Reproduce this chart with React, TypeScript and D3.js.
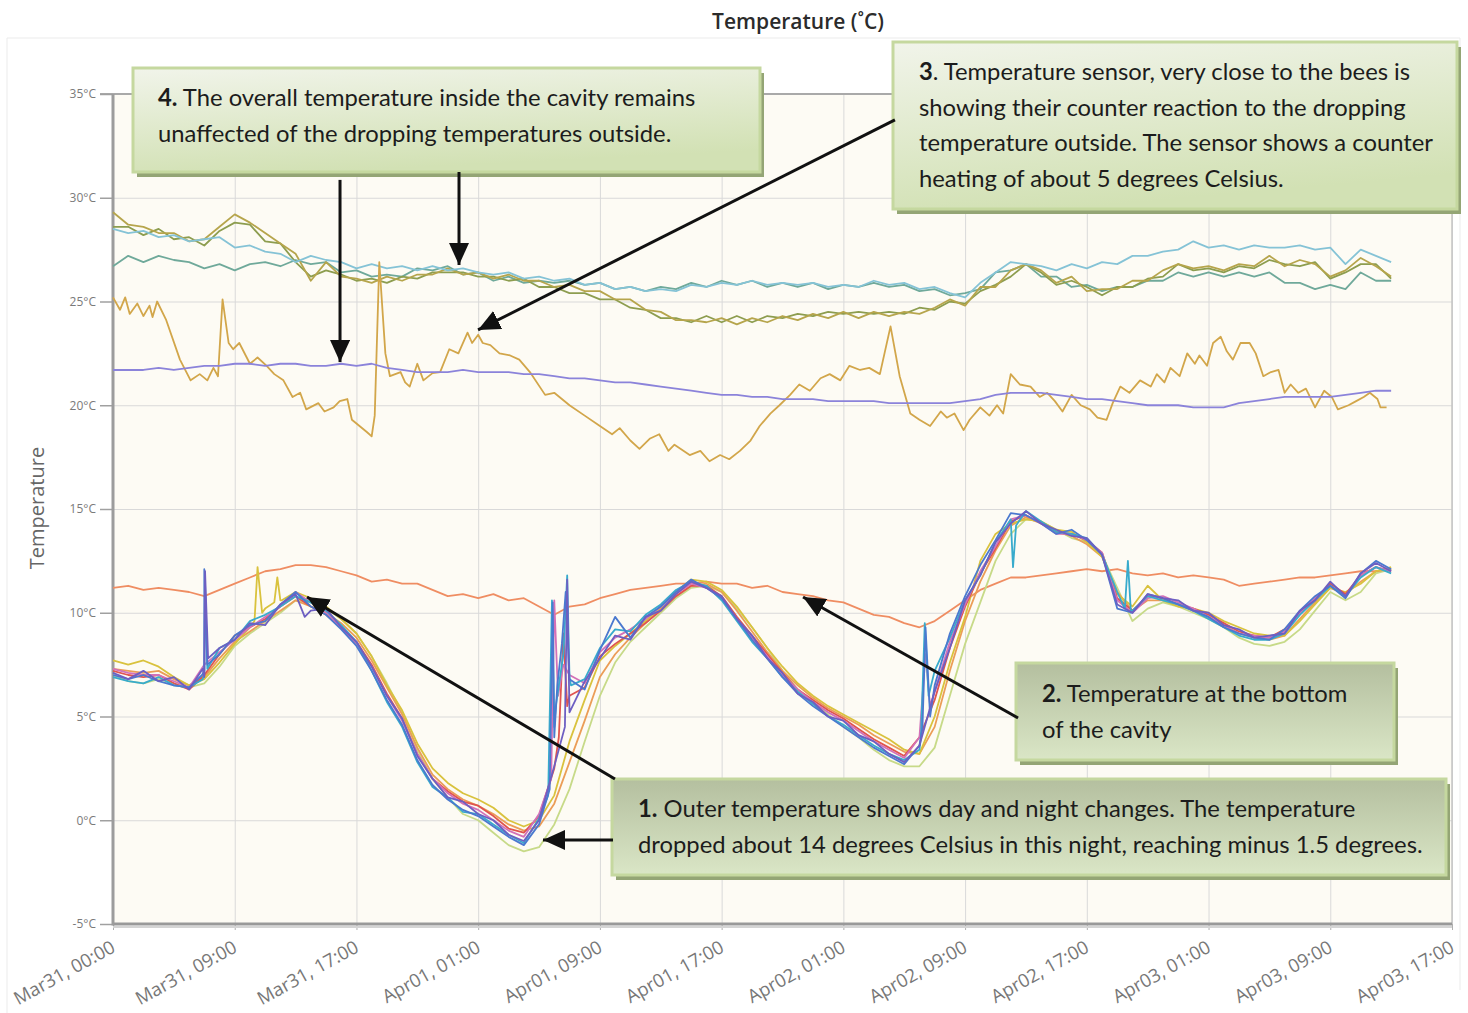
import React, { useEffect, useRef } from "react";
import * as d3 from "d3";

const WIDTH = 1468;
const HEIGHT = 1013;
const PLOT = { LEFT: 113, RIGHT: 1452, TOP: 94, BOTTOM: 924 };

const TITLE = "Temperature (˚C)";
const Y_TITLE = "Temperature";
const X_TICK_LABELS = [
  "Mar31, 00:00", "Mar31, 09:00", "Mar31, 17:00", "Apr01, 01:00",
  "Apr01, 09:00", "Apr01, 17:00", "Apr02, 01:00", "Apr02, 09:00",
  "Apr02, 17:00", "Apr03, 01:00", "Apr03, 09:00", "Apr03, 17:00",
];
const HOURS_PER_TICK = 8;
const Y_TICKS = [-5, 0, 5, 10, 15, 20, 25, 30, 35];

// hourly readings, index = hours since first sample
const UPPER_BLUE = [28.5,28.3,28.4,28.1,28.2,27.9,28.0,28.1,27.6,27.7,27.4,27.3,26.9,27.2,27.0,26.9,26.6,26.8,26.6,26.7,26.5,26.7,26.5,26.6,26.4,26.3,26.4,26.1,26.2,26.0,26.1,25.8,25.9,25.6,25.7,25.5,25.6,25.5,25.8,25.7,25.9,25.8,26.0,25.8,25.9,25.8,25.9,25.7,25.8,25.7,26.0,25.8,25.9,25.6,25.7,25.4,25.2,25.9,26.4,26.9,26.8,26.7,26.5,26.8,26.6,26.9,26.8,27.2,27.2,27.4,27.5,27.9,27.6,27.7,27.5,27.7,27.6,27.6,27.7,27.5,27.6,26.8,27.5,27.2,26.9];
const UPPER_OLIVE = [29.3,28.7,28.6,28.3,28.3,27.9,28.0,28.6,29.2,28.8,28.3,27.8,27.3,26.0,26.9,26.2,26.1,25.9,26.2,26.0,26.3,26.3,26.6,26.3,26.4,26.1,26.3,26.0,26.0,25.7,25.8,25.5,25.5,25.1,25.1,24.6,24.5,24.1,24.1,24.0,24.2,23.9,24.2,24.0,24.3,24.1,24.4,24.2,24.5,24.2,24.5,24.3,24.5,24.4,24.7,25.1,24.8,25.7,25.7,26.5,26.8,26.5,25.9,26.2,25.5,25.6,25.6,26.0,26.0,26.5,26.8,26.6,26.7,26.5,26.8,26.7,27.2,26.7,27.0,26.8,26.2,26.5,27.1,26.7,26.2];
const UPPER_GREEN = [28.6,28.6,28.2,28.5,28.0,28.1,27.7,28.4,28.8,28.7,27.9,27.8,26.9,26.2,26.5,26.3,26.0,26.1,25.9,26.2,26.1,26.4,26.4,26.4,26.2,26.2,26.0,26.1,25.7,25.7,25.4,25.4,25.1,25.1,24.7,24.6,24.2,24.2,24.0,24.3,24.0,24.3,24.0,24.3,24.2,24.4,24.3,24.5,24.4,24.5,24.4,24.5,24.4,24.7,24.6,25.0,24.9,25.5,25.8,26.2,26.8,26.4,25.8,26.0,25.7,25.3,25.7,25.7,26.1,26.2,26.8,26.5,26.6,26.4,26.7,26.6,27.0,26.8,26.7,26.9,26.1,26.4,26.8,26.8,26.1];
const UPPER_TEAL = [26.7,27.2,26.9,27.2,27.0,26.9,26.6,26.8,26.5,26.8,26.9,26.7,27.0,26.8,26.9,26.4,26.5,26.2,26.3,26.2,26.6,26.5,26.7,26.3,26.4,26.0,26.2,25.9,26.0,25.9,26.0,25.8,25.9,25.6,25.7,25.5,25.7,25.6,25.9,25.7,26.0,25.8,26.0,25.7,25.9,25.7,25.9,25.6,25.8,25.7,25.9,25.7,25.8,25.5,25.6,25.3,25.4,25.6,26.4,26.5,26.8,26.2,26.2,25.7,25.8,25.5,25.7,25.7,26.0,26.0,26.4,26.2,26.4,26.2,26.4,26.2,26.4,25.9,25.9,25.6,25.8,25.6,26.4,26.0,26.0];
const CAVITY_MID = [21.7,21.7,21.7,21.8,21.7,21.8,21.9,21.9,22.0,22.0,21.9,22.0,22.0,21.9,21.9,22.0,21.9,22.0,21.8,21.7,21.6,21.6,21.6,21.7,21.6,21.6,21.6,21.5,21.5,21.4,21.3,21.3,21.2,21.1,21.1,21.0,20.9,20.8,20.7,20.6,20.5,20.5,20.4,20.4,20.3,20.3,20.3,20.2,20.2,20.2,20.2,20.1,20.1,20.1,20.1,20.1,20.2,20.3,20.5,20.6,20.6,20.6,20.5,20.4,20.3,20.3,20.2,20.1,20.0,20.0,20.0,19.9,19.9,19.9,20.1,20.2,20.3,20.4,20.4,20.4,20.4,20.5,20.6,20.7,20.7];
const CAVITY_BOTTOM = [11.2,11.3,11.1,11.2,11.1,11.0,10.8,11.1,11.4,11.7,12.0,12.1,12.3,12.3,12.2,12.0,11.8,11.5,11.6,11.4,11.4,11.1,10.8,10.9,10.7,10.9,10.6,10.7,10.3,9.9,10.3,10.4,10.7,10.9,11.1,11.2,11.3,11.4,11.4,11.5,11.4,11.4,11.2,11.3,11.0,10.9,10.8,10.6,10.5,10.2,9.9,9.8,9.5,9.3,9.6,10.1,10.6,11.1,11.4,11.7,11.7,11.8,11.9,12.0,12.1,12.0,12.1,11.9,11.8,11.9,11.7,11.8,11.7,11.6,11.3,11.4,11.5,11.6,11.7,11.7,11.8,11.9,12.0,12.0,12.1];

// sensor next to the bees, [hour, °C]
const BEE_SENSOR: [number, number][] = [
  [0,25.2],[0.46,24.6],[0.8,25.2],[1.1,24.4],[1.6,24.9],[2.0,24.3],[2.4,24.8],[2.6,24.25],[2.9,25.0],[3.5,24.1],
  [4.4,22.2],[5.1,21.2],[5.7,21.5],[6.2,21.2],[6.6,21.8],[6.9,21.4],[7.2,25.1],[7.6,23.0],[7.9,22.7],[8.3,23.0],
  [9.0,22.0],[9.5,22.3],[10.1,21.9],[10.6,21.5],[11.2,21.2],[11.8,20.4],[12.3,20.6],[12.7,19.8],[13.5,20.1],[13.9,19.7],
  [14.5,19.9],[14.9,20.2],[15.4,20.3],[15.7,19.3],[16.2,19.0],[16.7,18.7],[17.0,18.5],[17.2,19.5],[17.5,26.9],[17.9,22.5],
  [18.2,21.4],[18.9,21.6],[19.2,21.1],[19.5,20.9],[20.0,22.0],[20.4,21.2],[21.0,21.55],[21.5,21.6],[22.1,22.7],[22.7,22.5],
  [23.3,23.5],[23.6,23.0],[24.0,23.4],[24.3,23.0],[24.8,22.9],[25.4,22.5],[26.1,22.4],[26.7,22.2],[27.4,21.6],[28.4,20.5],
  [29.0,20.6],[30.0,20.0],[31.0,19.5],[32.0,19.0],[32.8,18.6],[33.3,18.9],[34.0,18.3],[34.6,17.9],[35.3,18.4],[35.9,18.6],
  [36.5,17.8],[36.9,18.1],[37.9,17.6],[38.6,17.8],[39.2,17.3],[39.9,17.6],[40.5,17.4],[41.2,17.8],[41.9,18.3],[42.5,19.0],
  [43.2,19.6],[43.8,20.0],[44.5,20.5],[45.1,21.0],[45.8,20.7],[46.5,21.3],[47.1,21.5],[47.8,21.2],[48.4,21.9],[49.1,21.7],
  [49.7,21.8],[50.4,21.5],[51.1,23.8],[51.7,21.4],[52.4,19.6],[53.0,19.3],[53.7,19.0],[54.4,19.7],[54.8,19.4],[55.3,19.6],
  [55.9,18.8],[56.3,19.3],[57.0,19.9],[57.6,19.5],[58.1,20.0],[58.5,19.6],[59.0,21.5],[59.6,21.0],[60.3,20.9],[60.9,20.4],
  [61.4,20.6],[61.9,20.2],[62.4,19.7],[63.0,20.5],[63.6,20.0],[64.2,19.8],[64.7,19.4],[65.3,19.3],[65.7,20.1],[66.2,20.9],
  [66.8,20.6],[67.5,21.2],[68.2,20.9],[68.6,21.5],[69.1,21.1],[69.5,21.8],[70.1,21.4],[70.6,22.5],[71.1,22.0],[71.4,22.4],
  [71.9,21.9],[72.3,23.0],[72.8,23.3],[73.2,22.6],[73.6,22.2],[74.1,23.0],[74.7,23.0],[75.1,22.5],[75.6,21.4],[76.1,21.6],
  [76.6,21.7],[77.0,20.6],[77.4,21.0],[77.9,20.6],[78.4,20.8],[79.0,19.9],[79.6,20.7],[80.1,20.4],[80.5,19.8],[81.2,20.0],
  [81.7,20.2],[82.2,20.4],[82.6,20.6],[83.1,20.3],[83.3,19.9],[83.7,19.9],
];

// outside sensors, hourly, plus short spikes between the hours
const OUT_YELLOWGREEN = [7.0,6.7,6.6,6.8,6.6,6.4,6.6,7.4,8.4,9.0,9.5,10.0,10.6,10.5,10.2,9.7,9.0,7.9,6.6,5.2,3.4,2.0,1.1,0.3,0.0,-0.6,-1.2,-1.5,-1.3,-0.2,1.5,3.8,6.0,7.6,8.6,9.3,10.0,10.7,11.2,11.3,11.0,10.2,9.3,8.3,7.2,6.3,5.7,5.1,4.5,4.0,3.4,2.9,2.6,2.6,3.5,6.0,8.5,10.5,12.5,13.8,14.5,14.4,14.0,13.6,13.4,12.8,11.2,9.6,10.2,10.5,10.3,10.0,9.7,9.3,8.8,8.5,8.4,8.6,9.2,10.1,11.0,10.6,11.0,11.9,12.1];
const OUT_ORANGE = [7.3,7.2,7.1,7.2,6.8,6.5,6.9,7.8,8.6,9.1,9.6,10.1,10.6,10.3,10.0,9.5,8.8,7.7,6.4,5.1,3.5,2.2,1.5,1.0,0.7,0.3,-0.2,-0.5,-0.3,0.8,2.8,4.8,6.9,8.0,8.8,9.5,10.2,10.8,11.3,11.4,11.0,10.1,9.1,8.1,7.2,6.5,5.9,5.4,5.0,4.6,4.1,3.7,3.3,3.2,4.5,7.2,9.6,11.5,13.0,14.2,14.6,14.3,13.9,13.7,13.3,12.7,11.0,10.1,10.6,10.6,10.4,10.1,9.8,9.4,9.0,8.8,8.7,8.9,9.7,10.5,11.2,10.9,11.5,12.0,12.1];
const OUT_YELLOW = [7.7,7.5,7.7,7.4,6.9,6.5,6.8,7.6,8.5,9.3,10.2,10.6,11.0,10.7,10.3,9.7,9.0,7.9,6.5,5.3,3.7,2.5,1.8,1.3,1.0,0.6,0.0,-0.3,0.0,1.2,3.8,5.8,7.7,8.4,9.0,9.6,10.3,11.0,11.6,11.5,11.1,10.3,9.3,8.3,7.4,6.6,6.0,5.5,5.1,4.7,4.3,3.9,3.4,3.2,5.0,7.6,9.8,12.5,13.8,14.3,14.5,14.4,14.0,13.9,13.4,12.7,10.9,10.3,11.3,10.6,10.3,10.2,10.0,9.6,9.3,9.0,8.9,8.9,9.6,10.4,11.2,11.0,11.4,12.0,12.2];
const OUT_YELLOW_SPIKES: [number, number][] = [[9.3,9.6],[9.5,12.2],[9.8,10.0],[10.6,10.5],[10.8,11.7],[11.1,10.6]];
const OUT_RED = [7.2,7.0,6.9,7.0,6.6,6.3,7.0,8.0,8.9,9.3,9.7,10.3,10.8,10.3,9.9,9.3,8.6,7.5,6.1,4.9,3.2,2.0,1.4,0.9,0.7,0.2,-0.4,-0.6,0.2,2.5,6.0,6.4,7.9,8.5,9.0,9.5,10.1,10.8,11.3,11.3,10.8,9.8,8.9,8.0,7.1,6.3,5.8,5.3,4.9,4.4,3.9,3.5,3.1,4.0,5.8,8.3,10.3,11.9,13.1,14.4,14.7,14.3,13.9,13.8,13.5,12.9,10.7,10.1,10.8,10.7,10.4,10.2,9.9,9.5,9.1,8.9,8.8,9.2,10.0,10.6,11.4,10.9,11.8,12.2,12.0];
const OUT_RED_SPIKES: [number, number][] = [[29.3,4.0],[29.6,9.0],[29.85,5.5]];
const OUT_PINK = [7.3,7.1,7.0,7.0,6.7,6.4,7.5,8.1,8.7,9.3,9.8,10.3,11.0,10.5,10.0,9.3,8.5,7.4,6.0,4.8,3.2,2.0,1.3,0.8,0.5,0.0,-0.5,-0.8,0.3,10.6,7.0,6.6,8.1,8.8,9.2,9.7,10.3,10.9,11.4,11.2,10.7,9.7,8.8,7.9,7.0,6.3,5.7,5.2,4.8,4.3,3.8,3.4,3.0,4.0,6.2,8.6,10.4,12.0,13.2,14.5,14.7,14.3,13.8,13.8,13.5,12.9,10.6,10.0,10.7,10.8,10.5,10.2,9.8,9.4,9.0,8.9,8.8,9.1,10.0,10.7,11.3,10.8,11.8,12.2,12.0];
const OUT_PINK_SPIKES: [number, number][] = [[28.8,2.0],[29.25,6.0],[29.6,7.5],[53.4,8.0],[53.7,5.5]];
const OUT_CYAN = [6.9,6.7,6.6,6.9,6.5,6.4,7.1,8.3,8.7,9.6,9.9,10.3,10.8,10.5,10.1,9.4,8.6,7.2,5.7,4.5,2.8,1.6,1.1,0.4,0.3,-0.2,-0.7,-1.1,0.1,4.5,6.9,6.8,8.3,9.2,9.1,9.9,10.4,11.1,11.5,11.3,10.6,9.6,8.6,7.8,6.9,6.2,5.6,5.0,4.6,4.1,3.6,3.2,2.9,3.4,7.2,8.8,10.6,11.8,13.4,14.5,14.9,14.4,13.9,13.8,13.6,12.8,11.0,10.1,10.8,10.6,10.4,10.1,9.7,9.3,8.9,8.7,8.7,9.0,9.9,10.6,11.3,10.8,11.7,12.2,11.9];
const OUT_CYAN_SPIKES: [number, number][] = [[5.9,6.8],[6.05,11.4],[6.2,7.3],[28.6,1.2],[28.85,10.6],[29.1,5.5],[29.6,8.0],[29.85,11.8],[30.1,6.5],[53.1,4.0],[53.35,9.5],[53.6,6.0],[59.15,12.2],[59.35,14.2],[66.5,10.2],[66.7,12.5],[66.9,10.0]];
const OUT_BLUE = [7.0,6.8,7.0,6.7,6.5,6.4,7.2,8.0,8.9,9.4,9.6,10.4,11.0,10.3,9.9,9.2,8.4,7.2,5.8,4.6,2.9,1.7,1.0,0.5,0.2,-0.3,-0.8,-1.2,-0.2,4.0,6.8,6.3,8.2,9.8,8.8,9.8,10.3,11.0,11.6,11.2,10.7,9.7,8.7,7.8,6.9,6.1,5.5,5.0,4.5,4.0,3.5,3.1,2.7,3.6,6.5,9.0,10.8,12.3,13.5,14.8,14.7,14.3,13.8,14.0,13.5,12.8,10.2,10.0,10.9,10.7,10.4,10.1,9.8,9.3,9.0,8.8,8.7,9.2,10.1,10.8,11.3,10.7,11.9,12.5,12.1];
const OUT_BLUE_SPIKES: [number, number][] = [[5.85,7.0],[6.0,12.1],[6.2,7.5],[28.7,1.5],[28.9,10.5],[29.2,6.5],[29.5,8.5],[29.75,11.0],[53.2,4.5],[53.4,9.3],[53.7,5.0]];
const OUT_PURPLE = [7.1,6.8,7.2,6.7,6.9,6.3,6.9,8.3,8.7,9.5,9.4,10.4,10.9,10.1,10.2,9.3,8.6,7.4,6.0,4.9,3.1,2.0,1.1,0.9,0.3,0.0,-0.7,-1.0,0.0,2.6,5.2,6.7,7.8,8.9,8.7,9.8,10.1,10.9,11.5,11.2,10.8,9.7,8.9,7.8,7.1,6.1,5.7,5.0,4.8,4.1,3.8,3.2,2.8,3.6,6.2,8.3,10.6,11.8,13.4,14.3,14.9,14.3,14.0,13.7,13.6,12.8,10.4,10.0,10.9,10.7,10.6,10.1,10.0,9.4,9.2,8.8,8.9,9.0,10.1,10.6,11.5,10.8,11.9,12.4,12.0];
const OUT_PURPLE_SPIKES: [number, number][] = [[5.9,7.3],[6.05,12.0],[6.25,7.8],[12.6,9.8],[29.7,4.5],[29.85,11.6]];

const SERIES = [
  { values: UPPER_TEAL, extra: [], color: "#6fa99a" },
  { values: UPPER_GREEN, extra: [], color: "#8d9d4f" },
  { values: UPPER_OLIVE, extra: [], color: "#b6a54c" },
  { values: UPPER_BLUE, extra: [], color: "#85c3d6" },
  { values: CAVITY_MID, extra: [], color: "#8b83da" },
  { values: CAVITY_BOTTOM, extra: [], color: "#ef8d62" },
  { values: OUT_YELLOWGREEN, extra: [], color: "#c7da88" },
  { values: OUT_ORANGE, extra: [], color: "#eb9d57" },
  { values: OUT_YELLOW, extra: OUT_YELLOW_SPIKES, color: "#d9c23d" },
  { values: OUT_RED, extra: OUT_RED_SPIKES, color: "#e0544f" },
  { values: OUT_PINK, extra: OUT_PINK_SPIKES, color: "#d271b8" },
  { values: OUT_CYAN, extra: OUT_CYAN_SPIKES, color: "#38abcc" },
  { values: OUT_BLUE, extra: OUT_BLUE_SPIKES, color: "#4b79cf" },
  { values: OUT_PURPLE, extra: OUT_PURPLE_SPIKES, color: "#6d5fc2" },
];
const BEE_COLOR = "#d2a64a";

// callouts: box in page pixels, arrows in [hour, °C]
const NOTES = [
  { x: 133, y: 68, w: 627, h: 104, tx: 158, ty: 106, fill: "noteLight",
    lines: [["4.", " The overall temperature inside the cavity remains"], ["", "unaffected of the dropping temperatures outside."]] },
  { x: 893, y: 42, w: 564, h: 167, tx: 919, ty: 80, fill: "noteLight",
    lines: [["3", ". Temperature sensor, very close to the bees is"], ["", "showing their counter reaction to the dropping"], ["", "temperature outside. The sensor shows a counter"], ["", "heating of about 5 degrees Celsius."]] },
  { x: 1016, y: 663, w: 378, h: 97, tx: 1042, ty: 702, fill: "noteDark",
    lines: [["2.", " Temperature at the bottom"], ["", "of the cavity"]] },
  { x: 612, y: 779, w: 834, h: 96, tx: 638, ty: 817, fill: "noteDark",
    lines: [["1.", " Outer temperature shows day and night changes. The temperature"], ["", "dropped about 14 degrees Celsius in this night, reaching minus 1.5 degrees."]] },
];
const ARROWS: [number, number, number, number][] = [
  [14.92, 30.86, 14.92, 22.08],
  [22.74, 31.24, 22.74, 26.76],
  [51.39, 33.75, 23.99, 23.63],
  [59.48, 4.93, 45.35, 10.76],
  [32.99, 1.99, 12.75, 10.76],
  [32.86, -0.95, 28.26, -0.95],
];

const App = () => {
  const svgRef = useRef<SVGSVGElement>(null);

  useEffect(() => {
    document.body.style.margin = "0";
    const svg = d3.select(svgRef.current);
    svg.selectAll("*").remove();

    const x = d3
      .scaleLinear()
      .domain([0, (X_TICK_LABELS.length - 1) * HOURS_PER_TICK])
      .range([PLOT.LEFT, PLOT.RIGHT]);
    const y = d3.scaleLinear().domain([-5, 35]).range([PLOT.BOTTOM, PLOT.TOP]);
    const xTicks = X_TICK_LABELS.map((_, i) => i * HOURS_PER_TICK);

    const defs = svg.append("defs");
    const light = defs.append("linearGradient").attr("id", "noteLight")
      .attr("x1", 0).attr("y1", 0).attr("x2", 0.3).attr("y2", 1);
    light.append("stop").attr("offset", 0).attr("stop-color", "#f1f4ea");
    light.append("stop").attr("offset", 1).attr("stop-color", "#d2e1b4");
    const dark = defs.append("linearGradient").attr("id", "noteDark")
      .attr("x1", 0).attr("y1", 0).attr("x2", 0).attr("y2", 1);
    dark.append("stop").attr("offset", 0).attr("stop-color", "#b4bf9f");
    dark.append("stop").attr("offset", 1).attr("stop-color", "#dae6c6");
    defs.append("marker").attr("id", "head")
      .attr("viewBox", "0 0 22 20").attr("refX", 22).attr("refY", 10)
      .attr("markerWidth", 22).attr("markerHeight", 20)
      .attr("markerUnits", "userSpaceOnUse").attr("orient", "auto")
      .append("path").attr("d", "M0,0L22,10L0,20Z").attr("fill", "#111");

    // page frame
    svg.append("path")
      .attr("d", "M7,1013V38H1460V990")
      .attr("fill", "none").attr("stroke", "#ebebeb");

    svg.append("rect")
      .attr("x", 700).attr("y", 6).attr("width", 196).attr("height", 30)
      .attr("fill", "#fff");
    svg.append("text")
      .attr("x", 798).attr("y", 29).attr("text-anchor", "middle")
      .attr("font-family", "Open Sans").attr("font-size", 21).attr("font-weight", 600)
      .attr("fill", "#2b2b2b").text(TITLE);

    svg.append("rect")
      .attr("x", PLOT.LEFT).attr("y", PLOT.TOP)
      .attr("width", PLOT.RIGHT - PLOT.LEFT).attr("height", PLOT.BOTTOM - PLOT.TOP)
      .attr("fill", "#fdfbf4");

    const yGrid = svg.append("g")
      .attr("transform", `translate(${PLOT.LEFT},0)`)
      .call(d3.axisLeft(y).tickValues(Y_TICKS).tickFormat(() => "").tickSize(-(PLOT.RIGHT - PLOT.LEFT)));
    yGrid.select(".domain").remove();
    yGrid.selectAll("line").attr("stroke", "#d9d9d9");

    const xGrid = svg.append("g")
      .attr("transform", `translate(0,${PLOT.BOTTOM})`)
      .call(d3.axisBottom(x).tickValues(xTicks).tickFormat(() => "").tickSize(-(PLOT.BOTTOM - PLOT.TOP)));
    xGrid.select(".domain").remove();
    xGrid.selectAll("line").attr("stroke", "#d9d9d9");

    // plot frame
    svg.append("line").attr("x1", 100).attr("x2", PLOT.RIGHT)
      .attr("y1", PLOT.TOP).attr("y2", PLOT.TOP).attr("stroke", "#a9a9a9").attr("stroke-width", 2);
    svg.append("line").attr("x1", PLOT.RIGHT).attr("x2", PLOT.RIGHT)
      .attr("y1", PLOT.TOP).attr("y2", PLOT.BOTTOM).attr("stroke", "#c4c4c4").attr("stroke-width", 1.5);

    const yAxis = svg.append("g")
      .attr("transform", `translate(${PLOT.LEFT},0)`)
      .call(d3.axisLeft(y).tickValues(Y_TICKS).tickSize(13).tickPadding(4).tickFormat((d) => `${d}°C`));
    yAxis.select(".domain").remove();
    yAxis.selectAll("line").attr("stroke", "#a0a0a0").attr("stroke-width", 1.5);
    yAxis.selectAll("text")
      .attr("font-family", "Open Sans").attr("font-size", 12).attr("fill", "#7a7a7a");

    const xAxis = svg.append("g")
      .attr("transform", `translate(0,${PLOT.BOTTOM})`)
      .call(d3.axisBottom(x).tickValues(xTicks).tickSize(6).tickFormat((d, i) => X_TICK_LABELS[i]));
    xAxis.select(".domain").remove();
    xAxis.selectAll("line").attr("stroke", "#b0b0b0");
    xAxis.selectAll("text")
      .attr("font-family", "Open Sans").attr("font-size", 18.5).attr("fill", "#777")
      .attr("text-anchor", "end").attr("x", 0).attr("y", 0).attr("dy", 0)
      .attr("transform", "translate(3,27) rotate(-29)");

    svg.append("line").attr("x1", PLOT.LEFT).attr("x2", PLOT.RIGHT)
      .attr("y1", PLOT.BOTTOM + 3).attr("y2", PLOT.BOTTOM + 3)
      .attr("stroke", "#d4d4d4").attr("stroke-width", 2);
    svg.append("line").attr("x1", PLOT.LEFT).attr("x2", PLOT.RIGHT)
      .attr("y1", PLOT.BOTTOM).attr("y2", PLOT.BOTTOM)
      .attr("stroke", "#999").attr("stroke-width", 3);
    svg.append("line").attr("x1", PLOT.LEFT).attr("x2", PLOT.LEFT)
      .attr("y1", PLOT.TOP).attr("y2", PLOT.BOTTOM + 1.5)
      .attr("stroke", "#9c9c9c").attr("stroke-width", 3);

    svg.append("text")
      .attr("transform", `translate(44,508) rotate(-90)`)
      .attr("text-anchor", "middle")
      .attr("font-family", "Open Sans").attr("font-size", 20).attr("fill", "#666")
      .text(Y_TITLE);

    const line = d3.line<[number, number]>()
      .x((d) => x(d[0]))
      .y((d) => y(d[1]));

    const toPoints = (s: { values: number[]; extra: [number, number][] }) =>
      [...s.values.map((v, i) => [i, v] as [number, number]), ...s.extra]
        .sort((a, b) => a[0] - b[0]);

    const series = [
      ...SERIES.slice(0, 4).map((s) => ({ pts: toPoints(s), color: s.color })),
      { pts: BEE_SENSOR, color: BEE_COLOR },
      ...SERIES.slice(4).map((s) => ({ pts: toPoints(s), color: s.color })),
    ];
    svg.append("g")
      .selectAll("path")
      .data(series)
      .join("path")
      .attr("d", (d) => line(d.pts))
      .attr("fill", "none")
      .attr("stroke", (d) => d.color)
      .attr("stroke-width", 1.8)
      .attr("stroke-linejoin", "round");

    // callouts
    const notes = svg.append("g")
      .selectAll("g")
      .data(NOTES)
      .join("g");
    notes.append("rect")
      .attr("x", (d) => d.x + 4).attr("y", (d) => d.y + 5)
      .attr("width", (d) => d.w).attr("height", (d) => d.h)
      .attr("fill", "#94a575");
    notes.append("rect")
      .attr("x", (d) => d.x).attr("y", (d) => d.y)
      .attr("width", (d) => d.w).attr("height", (d) => d.h)
      .attr("fill", (d) => `url(#${d.fill})`)
      .attr("stroke", "#c5d89f").attr("stroke-width", 3);
    notes.each(function (d) {
      const g = d3.select(this);
      d.lines.forEach(([bold, rest], i) => {
        const t = g.append("text")
          .attr("x", d.tx).attr("y", d.ty + i * 35.7)
          .attr("font-family", "Lato").attr("font-size", 23.8).attr("fill", "#1c1c1c");
        if (bold) t.append("tspan").attr("font-weight", 700).text(bold);
        t.append("tspan").text(rest);
      });
    });

    svg.append("g")
      .selectAll("line")
      .data(ARROWS)
      .join("line")
      .attr("x1", (d) => x(d[0])).attr("y1", (d) => y(d[1]))
      .attr("x2", (d) => x(d[2])).attr("y2", (d) => y(d[3]))
      .attr("stroke", "#111").attr("stroke-width", 3)
      .attr("marker-end", "url(#head)");
  }, []);

  return <svg ref={svgRef} width={WIDTH} height={HEIGHT} style={{ display: "block" }}></svg>;
};

export default App;
